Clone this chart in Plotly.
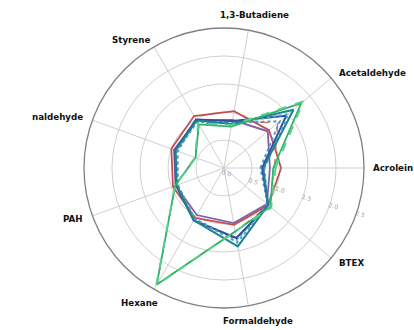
import numpy as np
import plotly.graph_objects as go

# Pollutant categories, counter-clockwise starting from the 0° spoke
categories = ["Acrolein", "Acetaldehyde", "1,3-Butadiene", "Styrene", "naldehyde",
              "PAH", "Hexane", "Formaldehyde", "BTEX"]

# Normalised ratios per scenario
red_solid = [1.02, 1.05, 1.03, 1.07, 1.00, 0.97, 1.03, 1.03, 1.03]
red_dash = [0.90, 1.25, 0.85, 0.90, 0.55, 0.93, 2.40, 1.15, 1.05]
purple_solid = [0.82, 1.02, 0.87, 0.98, 0.95, 0.92, 0.97, 1.00, 1.00]
blue_solid = [0.68, 1.45, 0.85, 1.00, 0.93, 0.91, 1.08, 1.27, 1.03]
blue_dot = [0.65, 1.30, 0.82, 0.98, 0.88, 0.88, 1.05, 1.30, 1.02]
teal_solid = [0.70, 1.62, 0.80, 0.98, 0.92, 0.90, 1.08, 1.42, 1.03]
teal_dot = [0.72, 1.50, 0.80, 0.95, 0.90, 0.88, 1.05, 1.35, 1.02]
green_solid = [0.88, 1.80, 0.75, 0.90, 0.54, 0.93, 2.40, 1.15, 1.08]
green_dash = [0.92, 1.85, 0.78, 0.92, 0.55, 0.93, 2.42, 1.15, 1.10]

radial_ticks = [0.0, 0.5, 1.0, 1.5, 2.0, 2.5]

series = [
    (red_solid, "#c0504d", "solid", 1.8),
    (red_dash, "#d0733a", "dash", 1.3),
    (purple_solid, "#8060a8", "solid", 1.8),
    (blue_dot, "#5b8fd0", "dot", 2.0),
    (blue_solid, "#2c4f9e", "solid", 2.0),
    (teal_dot, "#4aa8b8", "dot", 2.0),
    (teal_solid, "#1e8391", "solid", 2.0),
    (green_solid, "#2fb26a", "solid", 1.8),
    (green_dash, "#58d08a", "dash", 2.0),
]

W, H = 414, 330
CX, CY, R = 224.0, 168.0, 140.0          # polar centre and outer radius, px
dom_x = [(CX - R) / W, (CX + R) / W]
dom_y = [(H - CY - R) / H, (H - CY + R) / H]

fig = go.Figure()
for vals, color, dash, width in series:
    fig.add_trace(go.Scatterpolar(
        r=vals + vals[:1],
        theta=categories + categories[:1],
        mode="lines",
        line=dict(color=color, dash=dash, width=width),
        showlegend=False,
        hoverinfo="skip",
    ))

# Category labels just outside the rim: (xanchor, yanchor, xshift)
label_style = {
    "Acrolein": ("left", "middle", -1), "Acetaldehyde": ("left", "middle", 0),
    "1,3-Butadiene": ("center", "bottom", 5), "Styrene": ("right", "middle", 2),
    "naldehyde": ("right", "middle", 0), "PAH": ("right", "middle", 0),
    "Hexane": ("center", "top", -10), "Formaldehyde": ("center", "top", 8),
    "BTEX": ("left", "middle", 0),
}
label_r = R + 8
for i, cat in enumerate(categories):
    ang = np.deg2rad(i * 360 / len(categories))
    px = CX + label_r * np.cos(ang)
    py = CY - label_r * np.sin(ang)
    xa, ya, xs = label_style[cat]
    fig.add_annotation(
        x=px / W, y=1 - py / H, xref="paper", yref="paper",
        text=f"<b>{cat}</b>", showarrow=False, xanchor=xa, yanchor=ya,
        xshift=xs,
        font=dict(family="DejaVu Sans", size=8.7, color="#111111"),
    )

fig.update_layout(
    width=W, height=H,
    margin=dict(l=0, r=0, t=0, b=0),
    paper_bgcolor="white",
    polar=dict(
        domain=dict(x=dom_x, y=dom_y),
        bgcolor="white",
        angularaxis=dict(
            rotation=0, direction="counterclockwise",
            showline=True, linecolor="#808080", linewidth=1.3,
            gridcolor="#cfcfcf", gridwidth=1,
            ticks="", showticklabels=False,
        ),
        radialaxis=dict(
            range=[0, 2.5], tickvals=radial_ticks,
            ticktext=["\u00a0\u00a0\u00a0\u00a0" + f"{v:.1f}" for v in radial_ticks],
            angle=-17, tickangle=0,
            showline=False, ticks="",
            gridcolor="#cfcfcf", gridwidth=1,
            tickfont=dict(family="DejaVu Sans", size=6, color="#a0a0a0"),
        ),
    ),
)

fig.write_html("out.html")
